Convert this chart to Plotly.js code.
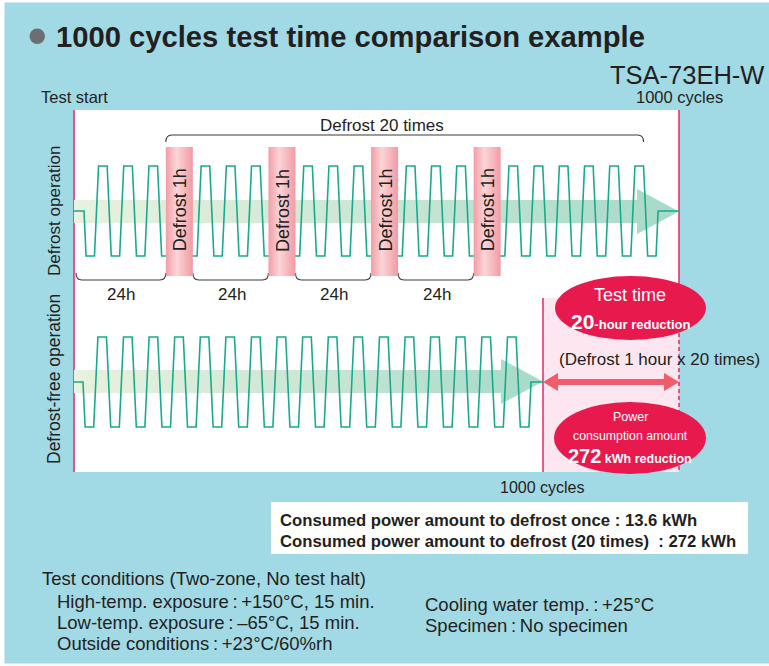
<!DOCTYPE html>
<html><head><meta charset="utf-8">
<script src="https://cdn.plot.ly/plotly-3.0.1.min.js"></script>
<style>html,body{margin:0;padding:0;background:#fff;overflow:hidden}#chart{width:769px;height:666px}</style>
</head><body><div id="chart"></div>
<script>
// ---------------- data ----------------
const titleText = '1000 cycles test time comparison example';
const modelName = 'TSA-73EH-W';
const totalCycles = 1000;
const defrostTimes = 20;
const defrostHours = 1;
const intervalHours = [24, 24, 24, 24];
const topCyclesPerSegment = [3, 3, 3, 3, 6];   // cycles drawn between defrost periods
const bottomCyclesPerSegment = [17];           // defrost-free: no interruption
const rowLabels = ['Defrost operation', 'Defrost-free operation'];
const reductionHours = 20;
const powerPerDefrost = 13.6;   // kWh
const powerTotal = 272;         // kWh
const conditionTitle = 'Test conditions (Two-zone, No test halt)';
const conditionItems = ['High-temp. exposure\u2009:\u2009+150°C, 15 min.',
                        'Low-temp. exposure\u2009:\u2009–65°C, 15 min.',
                        'Outside conditions\u2009:\u2009+23°C/60%rh'];
const conditionItems2 = ['Cooling water temp.\u2009:\u2009+25°C',
                         'Specimen\u2009:\u2009No specimen'];
// levels: +1 high-temp exposure, -1 low-temp exposure, 0 ambient
// ---------------- style ----------------
const FONT = 'Liberation Sans, Arial, sans-serif';
const INK = '#231f20';
const BLUE = 'rgb(161,217,229)';
const RED = '#e6336b';
const CRIMSON = '#e8194c';
const TEAL = '#19a98b';
const X0 = 74, XEND_TOP = 679, XEND_BOT = 543;
const topTpl = {lead: 10, rise: 4.1, high: 8.6, fall: 4.1, low: 8.4};
const botTpl = {lead: 9, rise: 4.2, high: 8.6, fall: 4.2, low: 8.6};
const BAR_W = 27;

function buildWave(x0, segs, t, barW, xEnd) {
  const xs = [x0], ys = [0];
  let x = x0 + t.lead; xs.push(x); ys.push(0);
  x += t.fall / 2; xs.push(x); ys.push(-1);
  const bars = []; const gaps = []; let lastHighEnd = 0; let segStart = x0;
  segs.forEach((n, si) => {
    x += (si === 0) ? t.low : t.low / 2; xs.push(x); ys.push(-1);
    for (let c = 0; c < n; c++) {
      x += t.rise; xs.push(x); ys.push(1);
      x += t.high; xs.push(x); ys.push(1); lastHighEnd = x;
      x += t.fall; xs.push(x); ys.push(-1);
      if (c < n - 1) { x += t.low; xs.push(x); ys.push(-1); }
    }
    if (si < segs.length - 1) {
      x += t.low / 2; xs.push(x); ys.push(-1);
      gaps.push([segStart, x]);
      bars.push([x, x + barW]);
      x += barW; xs.push(x); ys.push(-1);
      segStart = x;
    } else {
      x += t.low; xs.push(x); ys.push(-1);
      x += t.rise / 2; xs.push(x); ys.push(0);
      xs.push(xEnd); ys.push(0);
    }
  });
  return {xs, ys, bars, gaps, lastHighEnd};
}

const topRow = buildWave(X0, topCyclesPerSegment, topTpl, BAR_W, XEND_TOP);
const botRow = buildWave(X0, bottomCyclesPerSegment, botTpl, BAR_W, XEND_BOT);

function band(x0, x1, yc) {
  const hw = 11.5, hh = 22.5, hl = 42;
  return {x: [x0, x1 - hl, x1 - hl, x1, x1 - hl, x1 - hl, x0, x0],
          y: [yc - hw, yc - hw, yc - hh, yc, yc + hh, yc + hw, yc + hw, yc - hw]};
}
const bandTop = band(X0, XEND_TOP, 211.5);
const bandBot = band(X0, XEND_BOT, 381.5);

const traces = [];
[bandTop, bandBot].forEach(b => traces.push({
  type: 'scatter', mode: 'lines', x: b.x, y: b.y, xaxis: 'x', yaxis: 'y',
  fill: 'toself', line: {width: 0, color: 'rgba(0,0,0,0)'}, hoverinfo: 'skip',
  fillgradient: {type: 'horizontal', colorscale: [[0, '#e8f2de'], [0.5, '#cae6d4'], [1, '#a6dac8']]}
}));
traces.push({type: 'scatter', mode: 'lines', x: topRow.xs, y: topRow.ys, xaxis: 'x', yaxis: 'y2',
  line: {color: TEAL, width: 1.6}, hoverinfo: 'skip'});
traces.push({type: 'scatter', mode: 'lines', x: botRow.xs, y: botRow.ys, xaxis: 'x', yaxis: 'y3',
  line: {color: TEAL, width: 1.6}, hoverinfo: 'skip'});
topRow.bars.forEach(b => traces.push({
  type: 'scatter', mode: 'lines', xaxis: 'x', yaxis: 'y4',
  x: [b[0], b[1], b[1], b[0], b[0]], y: [147, 147, 276, 276, 147],
  fill: 'toself', line: {width: 0, color: 'rgba(0,0,0,0)'}, hoverinfo: 'skip',
  fillgradient: {type: 'horizontal', colorscale: [[0, '#f49ca5'], [0.4, '#fbd5d8'], [1, '#f39aa3']]}
}));

const shapes = [];
const rect = (x0, y0, x1, y1, fill, layer) => ({type: 'rect', xref: 'x', yref: 'y', x0, y0, x1, y1,
  fillcolor: fill, line: {width: 0}, layer: layer || 'below'});
shapes.push(rect(4.5, 2.5, 769, 663.5, BLUE));
shapes.push(rect(X0, 110, XEND_TOP, 472, '#ffffff'));
shapes.push(rect(XEND_BOT, 298, XEND_TOP, 472, '#fde6ef'));
const vline = (x, y0, y1, dash) => ({type: 'line', xref: 'x', yref: 'y', x0: x, x1: x, y0, y1,
  line: {color: RED, width: 1.6, dash: dash || 'solid'}, layer: 'below'});
shapes.push(vline(X0, 110, 472));
shapes.push(vline(XEND_TOP, 110, 298));
shapes.push(vline(XEND_TOP, 298, 472, '4px,3px'));
shapes.push(vline(XEND_BOT, 298, 472));
// title bullet
shapes.push({type: 'circle', xref: 'x', yref: 'y', x0: 29.5, x1: 45, y0: 28.5, y1: 44,
  fillcolor: '#6d6e71', line: {width: 0}, layer: 'below'});
// brace above defrost periods
const bx0 = topRow.bars[0][0], bx1 = topRow.lastHighEnd;
shapes.push({type: 'path', xref: 'x', yref: 'y', layer: 'below',
  path: `M${bx0},142 Q${bx0},135 ${bx0 + 6},135 L${bx1 - 6},135 Q${bx1},135 ${bx1},142`,
  line: {color: '#3a3a3a', width: 1.1}});
// 24h brackets
topRow.gaps.forEach((g, i) => {
  const a = g[0] + (i === 0 ? 2 : 0), b = g[1];
  shapes.push({type: 'path', xref: 'x', yref: 'y', layer: 'below',
    path: `M${a},273 Q${a},280 ${a + 6},280 L${b - 6},280 Q${b},280 ${b},273`,
    line: {color: '#3a3a3a', width: 1.1}});
});
// reduction double arrow
shapes.push({type: 'path', xref: 'x', yref: 'y', layer: 'above', fillcolor: '#f05c6a', line: {width: 0},
  path: `M${XEND_BOT},382 L${XEND_BOT + 15},373 L${XEND_BOT + 15},379 L${XEND_TOP - 15},379 L${XEND_TOP - 15},373 L${XEND_TOP},382 L${XEND_TOP - 15},391 L${XEND_TOP - 15},385 L${XEND_BOT + 15},385 L${XEND_BOT + 15},391 Z`});
// ellipses
shapes.push({type: 'circle', xref: 'x', yref: 'y', x0: 555, x1: 706, y0: 276, y1: 340,
  fillcolor: CRIMSON, line: {width: 0}, layer: 'above'});
shapes.push({type: 'circle', xref: 'x', yref: 'y', x0: 554, x1: 706, y0: 402, y1: 474,
  fillcolor: CRIMSON, line: {width: 0}, layer: 'above'});
// summary box
shapes.push(rect(271, 502, 748, 554, '#ffffff'));

const ann = [];
const A = (text, x, y, size, opts) => ann.push(Object.assign({text, x, y, xref: 'x', yref: 'y',
  showarrow: false, xanchor: 'center', yanchor: 'middle', borderpad: 0,
  font: {family: FONT, size, color: INK}}, opts || {}));
const W = s => ({font: {family: FONT, size: s, color: '#ffffff'}});
A('<b>' + titleText + '</b>', 55, 37, 29.2, {xanchor: 'left'});
A(modelName, 765, 75, 25.5, {xanchor: 'right'});
A('Test start', 40, 97, 16.5, {xanchor: 'left'});
A(totalCycles + ' cycles', XEND_TOP, 97, 16.5);
A('Defrost ' + defrostTimes + ' times', 382, 125, 17);
topRow.gaps.forEach((g, i) => A(intervalHours[i] + 'h', (g[0] + g[1]) / 2 + 1, 294, 17));
topRow.bars.forEach(b => A('Defrost ' + defrostHours + 'h', (b[0] + b[1]) / 2 + 1, 210, 18, {textangle: -90}));
A(rowLabels[0], 54, 211, 17, {textangle: -90});
A(rowLabels[1], 54, 379, 17.5, {textangle: -90});
A('(Defrost ' + defrostHours + ' hour x ' + defrostTimes + ' times)', 659, 359, 17);
A(totalCycles + ' cycles', 542, 487, 16);
// ellipse texts
A('Test time', 630, 295, 18, W(18));
A('<b><span style="font-size:21px">' + reductionHours + '</span>-hour reduction</b>', 630, 321, 13, W(13));
A('Power', 630, 417, 12.5, W(12.5));
A('consumption amount', 630, 436, 12.3, W(12.3));
A('<b><span style="font-size:20px">' + powerTotal + '</span> kWh reduction</b>', 630, 456, 12.5, W(12.5));
// summary box text
A('<b>Consumed power amount to defrost once : ' + powerPerDefrost + ' kWh</b>', 279, 520, 16.7, {xanchor: 'left'});
A('<b>Consumed power amount to defrost (' + defrostTimes + ' times)\u00a0 : ' + powerTotal + ' kWh</b>', 279, 541, 16.7, {xanchor: 'left'});
// conditions
A(conditionTitle, 41, 578, 18.5, {xanchor: 'left'});
conditionItems.forEach((t, i) => A(t, 56, 601 + i * 21, 18.5, {xanchor: 'left'}));
conditionItems2.forEach((t, i) => A(t, 424, 604 + i * 21, 18.5, {xanchor: 'left'}));

const ax = {visible: false, fixedrange: true, showgrid: false, zeroline: false};
const layout = {
  width: 769, height: 666, margin: {l: 0, r: 0, t: 0, b: 0, pad: 0},
  paper_bgcolor: '#ffffff', plot_bgcolor: 'rgba(0,0,0,0)', showlegend: false,
  xaxis: Object.assign({range: [0, 769], domain: [0, 1]}, ax),
  yaxis: Object.assign({range: [666, 0], domain: [0, 1], anchor: 'x'}, ax),
  yaxis2: Object.assign({range: [-1.15, 1.15], domain: [0.60548, 0.76089], anchor: 'x'}, ax),
  yaxis3: Object.assign({range: [-1.15, 1.15], domain: [0.34872, 0.50413], anchor: 'x'}, ax),
  yaxis4: Object.assign({range: [666, 0], domain: [0, 1], anchor: 'x'}, ax),
  shapes, annotations: ann, font: {family: FONT, color: INK}
};
Plotly.newPlot('chart', traces, layout, {displayModeBar: false, staticPlot: true});
</script></body></html>
